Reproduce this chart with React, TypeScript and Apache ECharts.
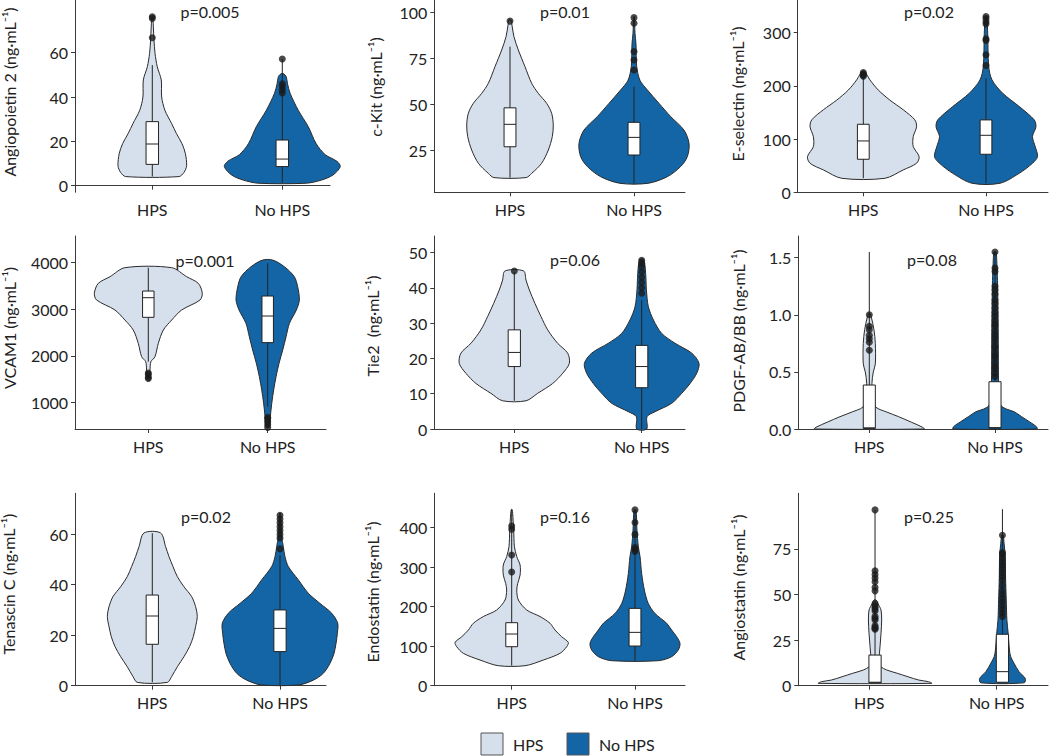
import React, { useEffect, useRef } from "react";
import * as echarts from "echarts";

// ---------------- data ----------------
const GROUPS = ["HPS", "No HPS"];
const AXIS_TITLES = [
  "Angiopoietin 2 (ng·mL⁻¹)",
  "c-Kit (ng·mL⁻¹)",
  "E-selectin (ng·mL⁻¹)",
  "VCAM1 (ng·mL⁻¹)",
  "Tie2  (ng·mL⁻¹)",
  "PDGF-AB/BB (ng·mL⁻¹)",
  "Tenascin C (ng·mL⁻¹)",
  "Endostatin (ng·mL⁻¹)",
  "Angiostatin (ng·mL⁻¹)",
];
const P_VALUES = ["p=0.005", "p=0.01", "p=0.02", "p=0.001", "p=0.06", "p=0.08", "p=0.02", "p=0.16", "p=0.25"];
const Y_TICKS = [
  [0, 20, 40, 60],
  [25, 50, 75, 100],
  [0, 100, 200, 300],
  [1000, 2000, 3000, 4000],
  [0, 10, 20, 30, 40, 50],
  [0, 0.5, 1.0, 1.5],
  [0, 20, 40, 60],
  [0, 100, 200, 300, 400],
  [0, 25, 50, 75],
];
const Y_RANGES = [
  [-3, 83.8], [2, 106.7], [0, 361],
  [426, 4574], [0, 54.7], [0, 1.69],
  [0, 76.2], [0, 487], [0, 105.5],
];

// violin density profiles: [value, half-width in group units]
const ANG2_VIOLIN_HPS = [[4.1,0.205],[6,0.244],[9,0.264],[14.6,0.254],[19,0.228],[23.6,0.185],[28,0.149],[34,0.097],[40,0.072],[47.7,0.069],[53.7,0.038],[59.7,0.021],[65.7,0.013],[72,0.008],[76.2,0.003]];
const ANG2_VIOLIN_NO = [[1.1,0.185],[2.5,0.3],[4.8,0.39],[8.6,0.446],[11,0.42],[14,0.33],[19,0.26],[26.6,0.2],[34,0.123],[41.7,0.06],[46,0.04],[49.2,0.03],[50.5,0.01]];
const CKIT_VIOLIN_HPS = [[10,0.129],[12.3,0.175],[17.8,0.255],[25,0.309],[32.3,0.341],[38.6,0.349],[45,0.336],[50.4,0.296],[55.9,0.228],[61.3,0.175],[70.4,0.121],[79.5,0.067],[86.7,0.032],[93,0.016],[95.8,0.008]];
const CKIT_VIOLIN_NO = [[6.9,0.113],[10.5,0.269],[16,0.376],[21.4,0.43],[28.6,0.444],[35.9,0.403],[43.2,0.296],[50.4,0.202],[57.7,0.108],[63,0.048],[70.4,0.022],[83,0.016],[88.6,0.008],[97.6,0.003]];
const ESEL_VIOLIN_HPS = [[26.3,0.176],[42,0.325],[54.5,0.434],[67,0.455],[85.8,0.407],[104.6,0.407],[123,0.434],[136,0.42],[155,0.325],[173,0.217],[192,0.122],[211,0.054],[223.5,0.022],[227,0.008]];
const ESEL_VIOLIN_NO = [[17,0.114],[35.7,0.271],[54.5,0.379],[67,0.42],[85.8,0.401],[104.6,0.379],[123,0.407],[136,0.393],[161,0.271],[186,0.136],[211,0.049],[236,0.022],[298.7,0.014],[330,0.005]];
const VCAM_VIOLIN_HPS = [[1515,0.006],[1695,0.014],[1873,0.022],[1980,0.056],[2268,0.084],[2554,0.126],[2768,0.196],[2983,0.279],[3198,0.433],[3341,0.452],[3556,0.419],[3699,0.321],[3893,0.196]];
const VCAM_VIOLIN_NO = [[477,0.014],[692,0.022],[978,0.034],[1265,0.05],[1551,0.07],[1838,0.095],[2124,0.126],[2410,0.154],[2697,0.182],[2983,0.24],[3198,0.265],[3484,0.251],[3699,0.223],[3914,0.14],[4057,0.042]];
const TIE2_VIOLIN_HPS = [[8,0.092],[10.1,0.183],[12.9,0.301],[15.8,0.38],[18.6,0.432],[21.5,0.419],[24.3,0.34],[28.1,0.262],[31.9,0.209],[35.6,0.162],[39.4,0.118],[42.2,0.092],[44.8,0.073]];
const TIE2_VIOLIN_NO = [[0,0.039],[3.5,0.042],[4.9,0.105],[7.3,0.236],[10.1,0.314],[12.9,0.38],[15.8,0.432],[18.6,0.45],[21.5,0.393],[24.3,0.262],[27.1,0.157],[30.9,0.092],[34.7,0.052],[39.4,0.037],[44.1,0.031],[48,0.016]];
const PDGF_VIOLIN_HPS = [[0,0.438],[0.015,0.424],[0.06,0.334],[0.108,0.233],[0.15,0.135],[0.19,0.053],[0.25,0.032],[0.4,0.021],[0.5,0.032],[0.57,0.048],[0.75,0.048],[0.87,0.037],[0.98,0.016],[1.01,0.005]];
const PDGF_VIOLIN_NO = [[0,0.334],[0.02,0.33],[0.064,0.273],[0.108,0.212],[0.152,0.151],[0.175,0.09],[0.204,0.05],[0.25,0.035],[0.4,0.028],[0.7,0.026],[1.0,0.024],[1.3,0.02],[1.45,0.015],[1.55,0.008]];
const TENC_VIOLIN_HPS = [[1.3,0.117],[3.6,0.151],[7.5,0.196],[11.5,0.248],[15.5,0.292],[19.4,0.321],[23.4,0.339],[27.4,0.352],[31.3,0.339],[35.3,0.308],[39.2,0.248],[43.2,0.196],[47.2,0.162],[51.1,0.131],[55.1,0.104],[60.5,0.065]];
const TENC_VIOLIN_NO = [[0.3,0.144],[2.2,0.261],[4.9,0.339],[8.9,0.392],[12.8,0.423],[16.8,0.439],[20.7,0.449],[24.7,0.452],[28.7,0.405],[32.6,0.313],[36.6,0.222],[41.9,0.144],[47.2,0.065],[51.1,0.039],[55.1,0.026],[59.1,0.013],[65.7,0.008],[68.3,0.003]];
const ENDO_VIOLIN_HPS = [[50.6,0.108],[65,0.257],[81.9,0.392],[98.7,0.446],[109.7,0.459],[124,0.405],[141,0.351],[158,0.311],[175,0.23],[191.6,0.122],[216.9,0.054],[242,0.041],[259,0.049],[280,0.068],[305.5,0.068],[326.6,0.041],[352,0.022],[394,0.016],[436,0.008],[446,0.003]];
const ENDO_VIOLIN_NO = [[63.3,0.189],[73.4,0.297],[90.3,0.351],[107,0.365],[124,0.338],[141,0.297],[158,0.257],[183,0.162],[208,0.108],[242,0.076],[284,0.054],[326.6,0.041],[352,0.027],[394,0.016],[444.7,0.008]];
const ANGS_VIOLIN_HPS = [[1.3,0.445],[2.2,0.42],[3.1,0.343],[4.9,0.259],[6.8,0.175],[8.6,0.092],[10.4,0.045],[12,0.033],[14.1,0.031],[21.4,0.039],[28.7,0.047],[36,0.052],[41.5,0.047],[45.2,0.021],[47,0.008]];
const ANGS_VIOLIN_NO = [[1.6,0.17],[4,0.179],[7.7,0.13],[12.3,0.091],[15.9,0.065],[19.6,0.055],[28.7,0.045],[36,0.035],[47,0.03],[58,0.025],[70.8,0.022],[78.1,0.013],[82.7,0.005]];

// box stats: [lower whisker, Q1, median, Q3, upper whisker]
const BOX_HPS = [
  [4.1, 9.6, 18.8, 28.9, 54.4],
  [10, 26.8, 39, 48, 81.3],
  [26.3, 62, 96.4, 127.7, 218.5],
  [1873, 2826, 3248, 3391, 3893],
  [8, 17.7, 21.7, 28.1, 44.6],
  [0, 0.005, 0.01, 0.385, 1.55],
  [1.3, 16.4, 27.6, 35.9, 60.4],
  [50.6, 98.7, 130.8, 159.5, 446],
  [1.3, 1.6, 1.9, 16.8, 96.4],
];
const BOX_NO = [
  [1.1, 8.6, 12, 20.6, 57.2],
  [6.9, 22.3, 31.9, 40.1, 59.5],
  [17, 71.4, 107, 135.9, 214],
  [907, 2282, 2854, 3284, 3986],
  [0, 11.7, 17.7, 23.7, 36.6],
  [0, 0.008, 0.012, 0.414, 1.55],
  [0.3, 13.5, 22.7, 30, 51.8],
  [63.3, 100.4, 135, 195.8, 445],
  [1.3, 1.9, 7.7, 28.2, 96.8],
];
const OUTLIERS_HPS = [
  [66.8, 75.5, 76.2],
  [95.2],
  [218, 220, 222, 225],
  [1510, 1540, 1600, 1630],
  [44.8],
  [0.69, 0.76, 0.79, 0.82, 0.87, 0.9, 1.0],
  [],
  [287.8, 331, 395.8, 404],
  [31, 31.5, 32, 33, 36, 37, 38, 41, 42, 43, 44, 45, 52, 54, 57, 59, 61, 63, 96.4],
];
const OUTLIERS_NO = [
  [41.8, 43.3, 44.8, 46, 57.2],
  [68.6, 74, 78.6, 94, 97.1],
  [238, 258, 285, 288, 316, 320, 326, 330],
  [460, 520, 580, 640, 680],
  [38.5, 40, 41.5, 43, 44.5, 46, 47, 47.8],
  [0.46, 0.49, 0.53, 0.55, 0.58, 0.62, 0.64, 0.67, 0.71, 0.73, 0.77, 0.8, 0.83, 0.86, 0.9, 0.92, 0.95, 0.99, 1.02, 1.06, 1.1, 1.13, 1.18, 1.22, 1.25, 1.38, 1.41, 1.55],
  [54.2, 58.5, 60, 61.5, 63, 64.5, 66, 67.5],
  [340, 345, 350, 383, 413, 445],
  [38, 40, 42, 44, 46, 48, 50, 52, 55, 58, 60, 62, 64, 66, 68, 70, 72, 73, 82.5],
];

const VIOLINS = [
  [ANG2_VIOLIN_HPS, ANG2_VIOLIN_NO],
  [CKIT_VIOLIN_HPS, CKIT_VIOLIN_NO],
  [ESEL_VIOLIN_HPS, ESEL_VIOLIN_NO],
  [VCAM_VIOLIN_HPS, VCAM_VIOLIN_NO],
  [TIE2_VIOLIN_HPS, TIE2_VIOLIN_NO],
  [PDGF_VIOLIN_HPS, PDGF_VIOLIN_NO],
  [TENC_VIOLIN_HPS, TENC_VIOLIN_NO],
  [ENDO_VIOLIN_HPS, ENDO_VIOLIN_NO],
  [ANGS_VIOLIN_HPS, ANGS_VIOLIN_NO],
];

// ---------------- layout / style ----------------
const LAYOUT = [
  { left: 75, right: 330, top: 0, bottom: 192.3, t1: 152.3, t2: 282.3, shift: 0, title: [9, 92], p: [210, 11] },
  { left: 434.3, right: 685, top: 0, bottom: 192.3, t1: 510, t2: 634, shift: 0, title: [375, 87], p: [565, 11] },
  { left: 797.7, right: 1048, top: 0, bottom: 192.3, t1: 863.3, t2: 986, shift: 0, title: [737.5, 94], p: [929, 11] },
  { left: 75, right: 326, top: 236, bottom: 429, t1: 148.3, t2: 267.7, shift: 0, title: [9, 328], p: [205, 260] },
  { left: 434.3, right: 685, top: 236, bottom: 429, t1: 514.3, t2: 641.7, shift: 0, title: [372.7, 326], p: [575, 259] },
  { left: 798.3, right: 1048, top: 236, bottom: 429, t1: 869.3, t2: 995, shift: 0, title: [738, 331], p: [932, 259] },
  { left: 75, right: 326, top: 493.3, bottom: 685.7, t1: 152.3, t2: 280, shift: 0, title: [8.5, 584], p: [206, 516] },
  { left: 434.3, right: 685, top: 493.3, bottom: 685.7, t1: 511.7, t2: 635, shift: 0, title: [372.7, 592], p: [565, 516] },
  { left: 798.3, right: 1048, top: 493.3, bottom: 685.7, t1: 869.3, t2: 996.7, shift: 0.045, title: [738, 587.5], p: [929, 516] },
];

const FILLS = ["#d6dfec", "#1465a5"];
const INK = "#222222";
const LINE = "#2b2b2b";
const FONT = "Lato, 'Open Sans', sans-serif";
const BOX_HALF = 0.048;

function buildOption() {
  const grid: any[] = [];
  const xAxis: any[] = [];
  const yAxis: any[] = [];
  const series: any[] = [];
  const graphic: any[] = [];

  LAYOUT.forEach((l, i) => {
    const sp = l.t2 - l.t1;
    grid.push({
      left: l.left,
      top: l.top,
      width: l.right - l.left,
      height: l.bottom - l.top,
      containLabel: false,
    });
    xAxis.push({
      type: "value",
      gridIndex: i,
      min: 1 - (l.t1 - l.left) / sp,
      max: 2 + (l.right - l.t2) / sp,
      splitLine: { show: false },
      axisLine: { show: true, lineStyle: { color: "#3a3a3a", width: 1 } },
      axisTick: { show: true, length: 4, customValues: [1, 2], lineStyle: { color: "#3a3a3a" } },
      axisLabel: {
        customValues: [1, 2],
        formatter: (v: number) => GROUPS[Math.round(v) - 1] || "",
        fontSize: 16,
        color: INK,
        fontFamily: FONT,
        margin: 9,
      },
    });
    const ticks = Y_TICKS[i];
    yAxis.push({
      type: "value",
      gridIndex: i,
      min: Y_RANGES[i][0],
      max: Y_RANGES[i][1],
      splitLine: { show: false },
      axisLine: { show: true, lineStyle: { color: "#3a3a3a", width: 1 } },
      axisTick: { show: true, length: 4, customValues: ticks, lineStyle: { color: "#3a3a3a" } },
      axisLabel: {
        customValues: ticks,
        formatter: (v: number) => (i === 5 ? Number(v).toFixed(1) : String(v)),
        fontSize: 16,
        color: INK,
        fontFamily: FONT,
        margin: 7,
      },
    });

    // violins
    series.push({
      type: "custom",
      xAxisIndex: i,
      yAxisIndex: i,
      silent: true,
      clip: false,
      data: [
        [1, BOX_HPS[i][2]],
        [2, BOX_NO[i][2]],
      ],
      encode: { x: 0, y: 1 },
      renderItem: (params: any, api: any) => {
        const g = params.dataIndex;
        const prof = VIOLINS[i][g];
        const cx = api.value(0) + l.shift;
        const leftSide = prof.map(([v, w]) => api.coord([cx - w, v]));
        const rightSide = prof
          .slice()
          .reverse()
          .map(([v, w]) => api.coord([cx + w, v]));
        return {
          type: "polygon",
          shape: { points: leftSide.concat(rightSide), smooth: 0.3 },
          style: { fill: FILLS[g], stroke: LINE, lineWidth: 1 },
        };
      },
    });

    // boxes
    series.push({
      type: "custom",
      xAxisIndex: i,
      yAxisIndex: i,
      silent: true,
      clip: false,
      data: [
        [1, BOX_HPS[i][2]],
        [2, BOX_NO[i][2]],
      ],
      encode: { x: 0, y: 1 },
      renderItem: (params: any, api: any) => {
        const g = params.dataIndex;
        const [lo, q1, md, q3, hi] = g === 0 ? BOX_HPS[i] : BOX_NO[i];
        const cx = api.value(0) + l.shift;
        const pLo = api.coord([cx, lo]);
        const pHi = api.coord([cx, hi]);
        const pa = api.coord([cx - BOX_HALF, q3]);
        const pb = api.coord([cx + BOX_HALF, q1]);
        const m1 = api.coord([cx - BOX_HALF, md]);
        const m2 = api.coord([cx + BOX_HALF, md]);
        return {
          type: "group",
          children: [
            {
              type: "line",
              shape: { x1: pLo[0], y1: pLo[1], x2: pHi[0], y2: pHi[1] },
              style: { stroke: "#222", lineWidth: 1 },
            },
            {
              type: "rect",
              shape: { x: pa[0], y: pa[1], width: pb[0] - pa[0], height: Math.max(pb[1] - pa[1], 1) },
              style: { fill: "#ffffff", stroke: "#222", lineWidth: 1 },
            },
            {
              type: "line",
              shape: { x1: m1[0], y1: m1[1], x2: m2[0], y2: m2[1] },
              style: { stroke: "#222", lineWidth: 1 },
            },
          ],
        };
      },
    });

    // outliers
    series.push({
      type: "scatter",
      xAxisIndex: i,
      yAxisIndex: i,
      silent: true,
      clip: false,
      symbol: "circle",
      symbolSize: 7,
      itemStyle: { color: "#1c1c1c" },
      data: OUTLIERS_HPS[i]
        .map((v) => [1 + l.shift, v])
        .concat(OUTLIERS_NO[i].map((v) => [2 + l.shift, v])),
    });

    // axis title
    graphic.push({
      type: "text",
      x: l.title[0],
      y: l.title[1],
      rotation: Math.PI / 2,
      silent: true,
      style: {
        text: AXIS_TITLES[i],
        font: `16px ${FONT}`,
        fill: INK,
        align: "center",
        verticalAlign: "middle",
      },
    });
    // p-value
    graphic.push({
      type: "text",
      x: l.p[0],
      y: l.p[1],
      silent: true,
      style: {
        text: P_VALUES[i],
        font: `16px ${FONT}`,
        fill: INK,
        align: "center",
        verticalAlign: "middle",
      },
    });
  });

  // legend
  const legendItems = [
    { x: 481, tx: 513 },
    { x: 567, tx: 599 },
  ];
  legendItems.forEach((it, g) => {
    graphic.push({
      type: "rect",
      silent: true,
      shape: { x: it.x, y: 733, width: 22, height: 22 },
      style: { fill: FILLS[g], stroke: "#555", lineWidth: 1 },
    });
    graphic.push({
      type: "text",
      silent: true,
      x: it.tx,
      y: 744,
      style: {
        text: GROUPS[g],
        font: `16px ${FONT}`,
        fill: INK,
        align: "left",
        verticalAlign: "middle",
      },
    });
  });

  return {
    animation: false,
    backgroundColor: "#ffffff",
    grid,
    xAxis,
    yAxis,
    series,
    graphic,
  };
}

export default function App() {
  const ref = useRef<HTMLDivElement>(null);
  useEffect(() => {
    if (!ref.current) return;
    const chart = echarts.init(ref.current, undefined, { renderer: "svg" });
    chart.setOption(buildOption() as any);
    return () => chart.dispose();
  }, []);
  return (
    <div
      ref={ref}
      style={{ position: "absolute", left: 0, top: 0, width: 1050, height: 756, background: "#fff" }}
    />
  );
}
